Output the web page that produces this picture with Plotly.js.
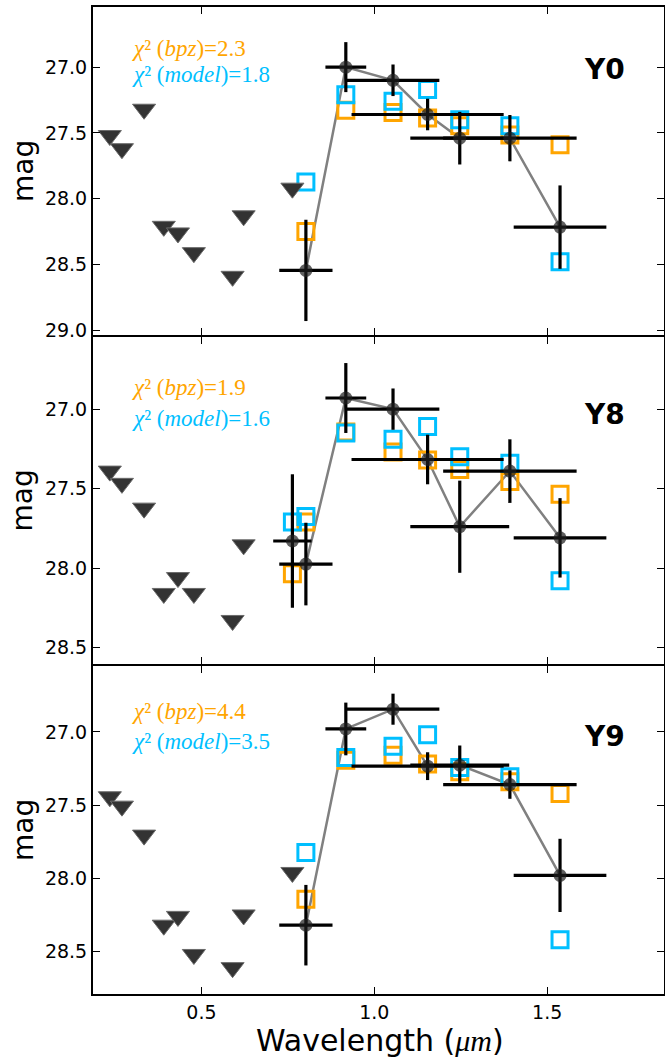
<!DOCTYPE html>
<html>
<head>
<meta charset="utf-8">
<script src="https://cdn.plot.ly/plotly-3.0.1.min.js"></script>
<style>html,body{margin:0;padding:0;background:#fff;}#chart{width:665px;height:1057px;}</style>
</head>
<body>
<div id="chart"></div>
<script>
// ---- Data ----
// upper limits (triangles), wavelength in micron
const triWl = [0.235, 0.270, 0.334, 0.391, 0.432, 0.478, 0.590, 0.622, 0.763];
const triWlY8 = [0.235, 0.270, 0.334, 0.391, 0.432, 0.478, 0.590, 0.622];

const y0TriMag = [27.52, 27.62, 27.32, 28.21, 28.26, 28.41, 28.59, 28.13, 27.92];
const y8TriMag = [27.39, 27.467, 27.623, 28.16, 28.06, 28.16, 28.33, 27.854];
const y9TriMag = [27.443, 27.507, 27.705, 28.32, 28.26, 28.52, 28.61, 28.25, 27.96];

// detections
const detWl = [0.802, 0.9175, 1.054, 1.154, 1.247, 1.392, 1.537];
const detWlErr = [0.077, 0.059, 0.134, 0.22, 0.143, 0.193, 0.134];
const detWlY8 = [0.763, 0.802, 0.9175, 1.054, 1.154, 1.247, 1.392, 1.537];
const detWlErrY8 = [0.0555, 0.077, 0.059, 0.134, 0.22, 0.143, 0.193, 0.134];

const y0Mag = [28.545, 27.0, 27.10, 27.36, 27.54, 27.54, 28.216];
const y0Err = [0.385, 0.19, 0.12, 0.12, 0.2, 0.176, 0.317];
const y0Bpz = [28.25, 27.327, 27.345, 27.387, 27.445, 27.516, 27.59];
const y0Model = [27.873, 27.21, 27.26, 27.17, 27.40, 27.445, 28.48];

const y8Mag = [27.83, 27.975, 26.93, 27.0, 27.317, 27.74, 27.39, 27.81];
const y8Err = [0.42, 0.26, 0.22, 0.13, 0.156, 0.29, 0.2, 0.25];
const y8Bpz = [28.036, 27.71, 27.144, 27.27, 27.32, 27.38, 27.456, 27.535];
const y8Model = [27.71, 27.675, 27.15, 27.19, 27.11, 27.30, 27.34, 28.08];

const y9Mag = [28.32, 26.98, 26.845, 27.234, 27.227, 27.36, 27.98];
const y9Err = [0.275, 0.18, 0.106, 0.095, 0.134, 0.097, 0.25];
const y9Bpz = [28.143, 27.193, 27.16, 27.22, 27.273, 27.34, 27.42];
const y9Model = [27.823, 27.175, 27.098, 27.02, 27.243, 27.307, 28.42];

const panelNames = ['Y0', 'Y8', 'Y9'];
const chiBpz = ['2.3', '1.9', '4.4'];
const chiModel = ['1.8', '1.6', '3.5'];

// ---- Styles ----
const ORANGE = '#FFA500';
const BLUE = '#00BFFF';

const panels = [
  {name: panelNames[0], xa: 'x3', ya: 'y3', triWl: triWl, tri: y0TriMag, wl: detWl, wlErr: detWlErr, mag: y0Mag, err: y0Err, bpz: y0Bpz, model: y0Model, cb: chiBpz[0], cm: chiModel[0]},
  {name: panelNames[1], xa: 'x2', ya: 'y2', triWl: triWlY8, tri: y8TriMag, wl: detWlY8, wlErr: detWlErrY8, mag: y8Mag, err: y8Err, bpz: y8Bpz, model: y8Model, cb: chiBpz[1], cm: chiModel[1]},
  {name: panelNames[2], xa: 'x', ya: 'y', triWl: triWl, tri: y9TriMag, wl: detWl, wlErr: detWlErr, mag: y9Mag, err: y9Err, bpz: y9Bpz, model: y9Model, cb: chiBpz[2], cm: chiModel[2]}
];

const traces = [];
panels.forEach(p => {
  const lx = [], ly = [];
  p.wl.forEach((w, i) => { if (w > 0.78) { lx.push(w); ly.push(p.mag[i]); } });
  traces.push({x: lx, y: ly, xaxis: p.xa, yaxis: p.ya, mode: 'lines', type: 'scatter',
    line: {color: '#808080', width: 2.5}, hoverinfo: 'skip', showlegend: false});
  traces.push({x: p.wl, y: p.bpz, xaxis: p.xa, yaxis: p.ya, mode: 'markers', type: 'scatter',
    marker: {symbol: 'square-open', size: 16, color: ORANGE, line: {width: 3, color: ORANGE}}, showlegend: false});
  traces.push({x: p.wl, y: p.model, xaxis: p.xa, yaxis: p.ya, mode: 'markers', type: 'scatter',
    marker: {symbol: 'square-open', size: 16, color: BLUE, line: {width: 3, color: BLUE}}, showlegend: false});
  traces.push({x: p.wl, y: p.mag, xaxis: p.xa, yaxis: p.ya, mode: 'markers', type: 'scatter',
    marker: {size: 13, color: 'rgba(30,30,30,0.7)'},
    error_x: {type: 'data', array: p.wlErr, color: '#000', thickness: 3.2, width: 0},
    error_y: {type: 'data', array: p.err, color: '#000', thickness: 3.2, width: 0},
    showlegend: false});
  traces.push({x: p.triWl, y: p.tri, xaxis: p.xa, yaxis: p.ya, mode: 'markers', type: 'scatter',
    marker: {symbol: 'triangle-down', size: 20, color: '#333333', line: {width: 1, color: '#6a6a6a'}}, showlegend: false});
});

const tickFont = {family: 'DejaVu Sans, sans-serif', size: 19, color: '#000'};
function xAxis(anchor, labels) {
  return {anchor: anchor, range: [0.1863, 1.8377], tickvals: [0.5, 1.0, 1.5], ticktext: ['0.5', '1.0', '1.5'],
    showticklabels: labels, ticks: 'inside', ticklen: 7, tickwidth: 1, tickcolor: '#000',
    showline: true, linecolor: '#000', linewidth: 2, mirror: 'allticks', showgrid: false, zeroline: false,
    tickfont: tickFont};
}
function yAxis(domain, range, tv) {
  return {domain: domain, range: range, tickvals: tv, ticktext: tv.map(v => v.toFixed(1)),
    ticks: 'inside', ticklen: 7, tickwidth: 1, tickcolor: '#000',
    showline: true, linecolor: '#000', linewidth: 2, mirror: 'allticks', showgrid: false, zeroline: false,
    tickfont: tickFont};
}

// axis lines are drawn outside the domain, so leave a gap of one line width
// between neighbouring panels to make their frames coincide
const gap = 1 / 987;
const doms = {y3: [2/3 + gap, 1], y2: [1/3 + gap, 2/3 - gap], y: [0, 1/3 - gap]};

const annotations = [];
const chiPos = [[0.873, 0.794, 0.809], [0.846, 0.751, 0.763], [0.86, 0.771, 0.784]];
panels.forEach((p, k) => {
  const d = doms[p.ya];
  const yp = f => d[0] + (d[1] - d[0]) * f;
  annotations.push({xref: 'paper', yref: 'paper', x: 0.064, y: yp(chiPos[k][0]), xanchor: 'left', yanchor: 'middle', showarrow: false,
    text: '<i>χ</i>² (<i>bpz</i>)=' + p.cb, font: {family: 'Liberation Serif, serif', size: 23, color: ORANGE}});
  annotations.push({xref: 'paper', yref: 'paper', x: 0.064, y: yp(chiPos[k][1]), xanchor: 'left', yanchor: 'middle', showarrow: false,
    text: '<i>χ</i>² (<i>model</i>)=' + p.cm, font: {family: 'Liberation Serif, serif', size: 23, color: BLUE}});
  annotations.push({xref: 'paper', yref: 'paper', x: 0.895, y: yp(chiPos[k][2]), xanchor: 'center', yanchor: 'middle', showarrow: false,
    text: '<b>' + p.name + '</b>', font: {family: 'DejaVu Sans, sans-serif', size: 28, color: '#000'}});
  annotations.push({xref: 'paper', yref: 'paper', x: -0.1226, y: yp(0.5), xanchor: 'center', yanchor: 'middle', showarrow: false,
    textangle: -90, text: 'mag', font: {family: 'DejaVu Sans, sans-serif', size: 28, color: '#000'}});
});
annotations.push({xref: 'paper', yref: 'paper', x: 0.503, y: -0.047, xanchor: 'center', yanchor: 'middle', showarrow: false,
  text: 'Wavelength (<span style="font-family:Liberation Serif, serif;font-style:italic">μm</span>)',
  font: {family: 'DejaVu Sans, sans-serif', size: 30, color: '#000'}});

const layout = {
  width: 665, height: 1057,
  margin: {l: 93, r: 1, t: 7, b: 63, pad: 0},
  paper_bgcolor: '#fff', plot_bgcolor: '#fff',
  showlegend: false,
  xaxis: xAxis('y', true),
  xaxis2: Object.assign(xAxis('y2', false), {matches: 'x'}),
  xaxis3: Object.assign(xAxis('y3', false), {matches: 'x'}),
  yaxis: yAxis(doms.y, [28.79, 26.55], [27.0, 27.5, 28.0, 28.5]),
  yaxis2: yAxis(doms.y2, [28.604, 26.546], [27.0, 27.5, 28.0, 28.5]),
  yaxis3: yAxis(doms.y3, [29.036, 26.543], [27.0, 27.5, 28.0, 28.5, 29.0]),
  annotations: annotations
};

Plotly.newPlot('chart', traces, layout, {staticPlot: true, displayModeBar: false}).then(gd => {
  // drop empty placeholder text nodes (e.g. unused axis titles)
  gd.querySelectorAll('text').forEach(t => { if (!t.textContent.replace(/[\s\u200b]/g, '')) t.remove(); });
});
</script>
</body>
</html>
